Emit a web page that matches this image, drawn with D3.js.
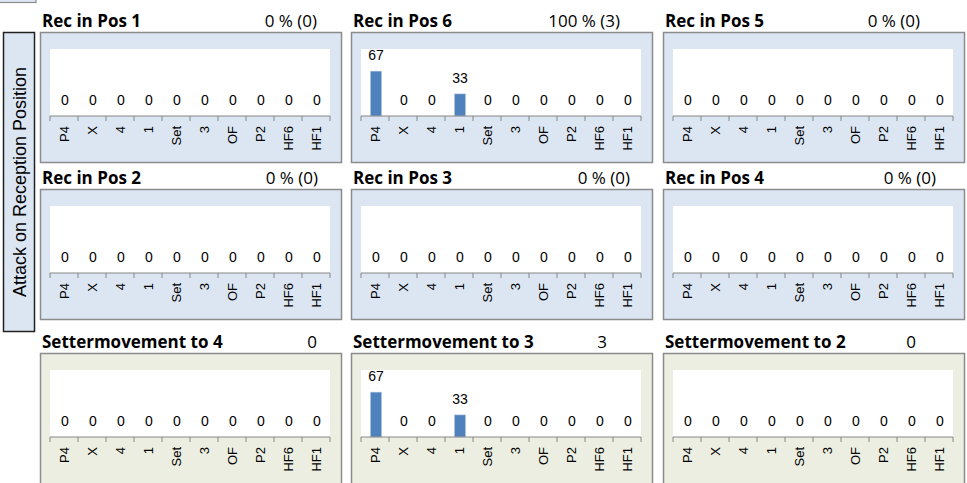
<!DOCTYPE html>
<html lang="en">
<head>
    <meta charset="UTF-8">
    <title>Attack on Reception Position</title>
    <style>
        body {
            margin: 0;
            padding: 0;
            background-color: #fff;
            overflow: hidden;
        }
        .title {
            font-family: 'Open Sans', Lato, sans-serif;
            font-weight: bold;
            font-size: 17px;
            fill: #000;
        }
        .total {
            font-family: 'Open Sans', Lato, sans-serif;
            font-size: 17px;
            fill: #000;
        }
        .value {
            font-family: 'Liberation Sans', Arial, sans-serif;
            font-size: 14px;
            fill: #000;
        }
        .cat {
            font-family: 'Liberation Sans', Arial, sans-serif;
            font-size: 13px;
            fill: #000;
        }
        .side {
            font-family: 'Liberation Sans', Arial, sans-serif;
            font-size: 18px;
            fill: #000;
        }
    </style>
    <script src="https://d3js.org/d3.v7.min.js"></script>
</head>
<body>
    <div id="chart"></div>

    <script>
        // data
        const categories = ["P4", "X", "4", "1", "Set", "3", "OF", "P2", "HF6", "HF1"];
        const panelTitles = [
            "Rec in Pos 1", "Rec in Pos 6", "Rec in Pos 5",
            "Rec in Pos 2", "Rec in Pos 3", "Rec in Pos 4",
            "Settermovement to 4", "Settermovement to 3", "Settermovement to 2"
        ];
        const panelTotals = [
            "0 % (0)", "100 % (3)", "0 % (0)",
            "0 % (0)", "0 % (0)", "0 % (0)",
            "0", "3", "0"
        ];
        const recPos1 = [0, 0, 0, 0, 0, 0, 0, 0, 0, 0];
        const recPos6 = [67, 0, 0, 33, 0, 0, 0, 0, 0, 0];
        const recPos5 = [0, 0, 0, 0, 0, 0, 0, 0, 0, 0];
        const recPos2 = [0, 0, 0, 0, 0, 0, 0, 0, 0, 0];
        const recPos3 = [0, 0, 0, 0, 0, 0, 0, 0, 0, 0];
        const recPos4 = [0, 0, 0, 0, 0, 0, 0, 0, 0, 0];
        const setTo4 = [0, 0, 0, 0, 0, 0, 0, 0, 0, 0];
        const setTo3 = [67, 0, 0, 33, 0, 0, 0, 0, 0, 0];
        const setTo2 = [0, 0, 0, 0, 0, 0, 0, 0, 0, 0];
        const panelValues = [recPos1, recPos6, recPos5, recPos2, recPos3, recPos4, setTo4, setTo3, setTo2];
        const sideLabel = "Attack on Reception Position";

        // layout
        const width = 967, height = 483;
        const colX = [40, 351, 663];
        const rowY = [32, 189, 353];
        const panelW = 301;
        const panelH = [130, 130, 150];
        const totalRight = [[317, 620, 920], [318, 630, 936], [317, 607, 916]];
        const plotW = 280, plotTop = 17, plotH = 67;

        const svg = d3.select("#chart").append("svg")
            .attr("width", width)
            .attr("height", height);

        // small box top-left
        svg.append("rect")
            .attr("x", -2).attr("y", -20)
            .attr("width", 38).attr("height", 22.5)
            .attr("fill", "#dce6f2")
            .attr("stroke", "#8c8c8c")
            .attr("stroke-width", 1.2);

        // side label box
        svg.append("rect")
            .attr("x", 3.5).attr("y", 32.5)
            .attr("width", 31).attr("height", 299)
            .attr("fill", "#dce6f2")
            .attr("stroke", "#222")
            .attr("stroke-width", 1.5);

        svg.append("text")
            .attr("class", "side")
            .attr("transform", "translate(25.5,182) rotate(-90)")
            .attr("text-anchor", "middle")
            .text(sideLabel);

        const x = d3.scaleBand().domain(categories).range([0, plotW]).paddingInner(0).paddingOuter(0);
        const y = d3.scaleLinear().domain([0, 100]).range([plotH, 0]);

        panelTitles.forEach((title, i) => {
            const row = Math.floor(i / 3), col = i % 3;
            const px = colX[col], py = rowY[row];
            const values = panelValues[i];
            const fill = row < 2 ? "#dce6f2" : "#ebeee0";

            svg.append("rect")
                .attr("x", px + 0.5).attr("y", py + 0.5)
                .attr("width", panelW).attr("height", panelH[row])
                .attr("fill", fill)
                .attr("stroke", "#8c8c8c")
                .attr("stroke-width", 1.5);

            svg.append("text")
                .attr("class", "title")
                .attr("x", px + 2).attr("y", py - 5)
                .text(title);

            svg.append("text")
                .attr("class", "total")
                .attr("x", totalRight[row][col]).attr("y", py - 5)
                .attr("text-anchor", "end")
                .text(panelTotals[i]);

            const g = svg.append("g")
                .attr("transform", `translate(${px + 10},${py + plotTop})`);

            g.append("rect")
                .attr("width", plotW).attr("height", plotH)
                .attr("fill", "#fff");

            const bw = x.bandwidth() * 0.4;
            g.selectAll("rect.bar")
                .data(values)
                .join("rect")
                .attr("class", "bar")
                .attr("x", (d, j) => x(categories[j]) + (x.bandwidth() - bw) / 2 + 1)
                .attr("y", d => y(d))
                .attr("width", bw)
                .attr("height", d => plotH - y(d))
                .attr("fill", "#4f81bd")
                .attr("stroke", "#b9cde5")
                .attr("stroke-width", 0.6);

            g.selectAll("text.value")
                .data(values)
                .join("text")
                .attr("class", "value")
                .attr("x", (d, j) => x(categories[j]) + x.bandwidth() / 2 + 1)
                .attr("y", d => y(d) - 11)
                .attr("text-anchor", "middle")
                .text(d => d);

            // axis
            const axis = g.append("g").attr("transform", `translate(0,${plotH})`);
            axis.append("line")
                .attr("x1", 0).attr("x2", plotW)
                .attr("stroke", "#868686").attr("stroke-width", 1);
            axis.selectAll("line.tick")
                .data(d3.range(categories.length + 1))
                .join("line")
                .attr("class", "tick")
                .attr("x1", k => k * x.step()).attr("x2", k => k * x.step())
                .attr("y1", 0).attr("y2", 5)
                .attr("stroke", "#868686").attr("stroke-width", 1);
            axis.selectAll("text.cat")
                .data(categories)
                .join("text")
                .attr("class", "cat")
                .attr("transform", c => `translate(${x(c) + x.bandwidth() / 2 + 5},10) rotate(-90)`)
                .attr("text-anchor", "end")
                .text(c => c);
        });
    </script>
</body>
</html>
